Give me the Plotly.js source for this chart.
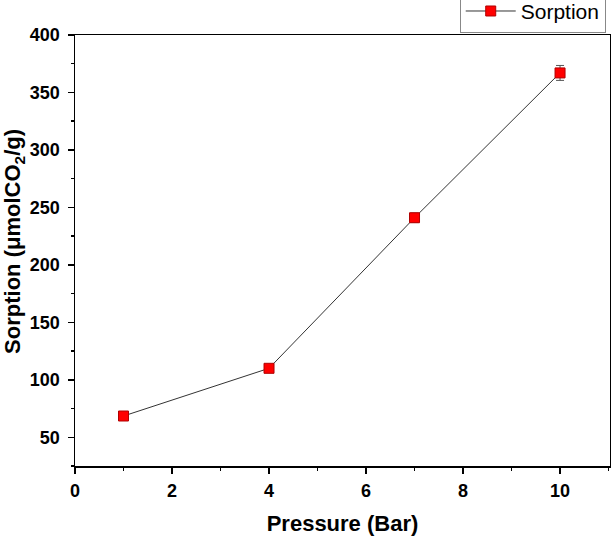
<!DOCTYPE html>
<html>
<head>
<meta charset="utf-8">
<script src="https://cdn.plot.ly/plotly-3.0.1.min.js"></script>
<style>
  html, body { margin: 0; padding: 0; background: #fff; }
  #chart { width: 611px; height: 536px; }
</style>
</head>
<body>
<div id="chart"></div>
<script>
// CO2 sorption at increasing pressure
const pressure = [1, 4, 7, 10];
const sorption = [68.5, 110, 241, 367];
const sorptionErr = [2.5, 3, 4, 6.5];

const xTicks = [0, 2, 4, 6, 8, 10];
const yTicks = [50, 100, 150, 200, 250, 300, 350, 400];

const trace = {
  x: pressure,
  y: sorption,
  name: 'Sorption',
  type: 'scatter',
  mode: 'lines+markers',
  line: { color: '#333333', width: 1 },
  marker: { symbol: 'square', size: 10, color: '#ff0000', line: { color: '#b00000', width: 1 } },
  error_y: { type: 'data', array: sorptionErr, visible: true, color: '#555555', thickness: 1, width: 4 }
};

const fam = 'Arial, Liberation Sans, sans-serif';
const axisFont = { family: fam, size: 18, color: '#000' };
const titleFont = { family: fam, size: 22, color: '#000' };

const layout = {
  width: 611,
  height: 536,
  margin: { l: 75, r: 1, t: 35, b: 70, autoexpand: false },
  paper_bgcolor: '#fff',
  plot_bgcolor: '#fff',
  showlegend: true,
  legend: {
    x: 0.992, xanchor: 'right', y: 1.005, yanchor: 'bottom',
    bgcolor: '#fff', bordercolor: '#888', borderwidth: 1,
    font: { family: fam, size: 21, color: '#000' },
    itemwidth: 50, tracegroupgap: 0
  },
  xaxis: {
    range: [0, 11.03],
    tickvals: xTicks,
    ticktext: xTicks.map(v => '<b>' + v + '</b>'),
    ticks: 'outside', ticklen: 6, tickwidth: 1.5, tickcolor: '#000',
    minor: { dtick: 1, tick0: 0, ticks: 'outside', ticklen: 3, tickwidth: 1.5, tickcolor: '#000' },
    showline: true, linecolor: '#000', linewidth: 1.5, mirror: true,
    showgrid: false, zeroline: false,
    tickfont: axisFont,
    ticklabelstandoff: 2,
    automargin: false,
    title: { text: '<b>Pressure (Bar)</b>', font: titleFont, standoff: 16 }
  },
  yaxis: {
    range: [25, 400],
    tickvals: yTicks,
    ticktext: yTicks.map(v => '<b>' + v + '</b>'),
    ticks: 'outside', ticklen: 6, tickwidth: 1.5, tickcolor: '#000',
    minor: { dtick: 25, tick0: 0, ticks: 'outside', ticklen: 3, tickwidth: 1.5, tickcolor: '#000' },
    showline: true, linecolor: '#000', linewidth: 1.5, mirror: true,
    showgrid: false, zeroline: false,
    tickfont: axisFont,
    ticklabelstandoff: 4,
    automargin: false
  },
  annotations: [{
    text: '<b>Sorption (μmolCO<sub>2</sub>/g)</b>',
    font: titleFont,
    textangle: -90,
    xref: 'paper', yref: 'paper',
    x: 0, y: 0.52, xshift: -61,
    xanchor: 'center', yanchor: 'middle',
    showarrow: false
  }]
};

Plotly.newPlot('chart', [trace], layout, { displayModeBar: false, staticPlot: true });
</script>
</body>
</html>
